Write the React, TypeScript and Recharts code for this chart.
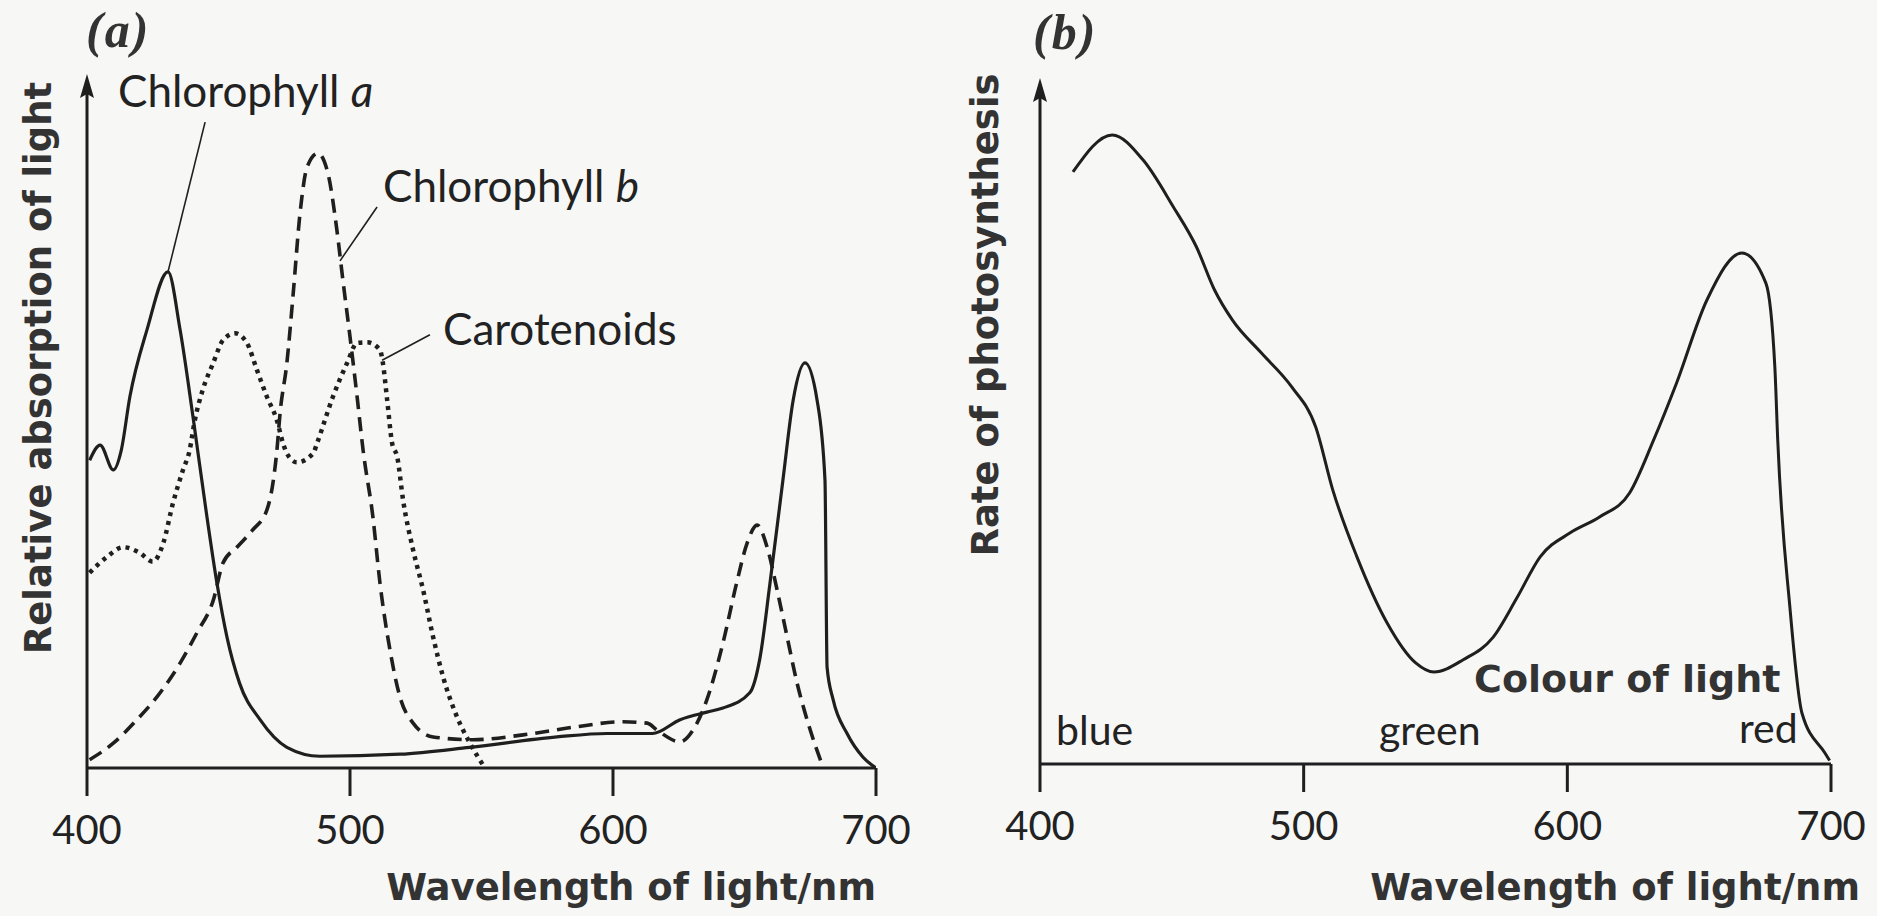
import { LineChart, Line, XAxis, YAxis, ReferenceLine, ReferenceDot } from "recharts"

// wavelength (nm), relative value (0-100)
const chlorophyllA: [number, number][] = [
  [401, 44.6], [405, 46.8], [410, 43.2], [413, 46], [416.3, 53.8], [422.8, 63.5],
  [430.8, 71.9], [435.4, 63.5], [440.3, 50.9], [445.6, 36.4], [449.4, 26.8],
  [453.2, 19], [458, 12.3], [465.8, 7], [476, 3], [488.6, 1.7], [519, 2],
  [545.6, 3], [578.7, 4.5], [597.7, 5], [615, 5], [625.5, 7], [635.7, 8.1],
  [641.8, 8.7], [652, 10.9], [655.9, 16], [659.7, 26.8], [664.6, 41.7],
  [668.5, 53.3], [673, 58.7], [677.6, 53.3], [680.6, 41.7], [681.4, 14.6],
  [683.7, 9.9], [689, 5], [695, 1.6], [700, 0],
]

const chlorophyllB: [number, number][] = [
  [401, 1.2], [410, 3.6], [419, 7], [426.6, 10.3], [435.4, 15.2], [441.8, 19.6],
  [448, 24.3], [451.7, 29.7], [457, 32], [463, 34.5], [468.4, 37.4], [470.7, 41.3],
  [472.2, 46], [473.4, 51.4], [476, 58.7], [478.3, 68.3], [481, 80.4], [483.7, 87.1],
  [487.8, 89.1], [491.6, 86.2], [495, 78], [497.3, 70.7], [500, 62.5], [502.7, 53.8],
  [505, 46], [508.7, 36.4], [511.4, 26.8], [515.2, 17.1], [519, 10.3], [524, 6.5],
  [531.6, 4.5], [546.8, 4.1], [565.8, 4.8], [584.8, 5.9], [603.8, 6.7], [613, 6.5],
  [616.7, 5.5], [625.5, 3.8], [630.4, 5.5], [635.7, 9.9], [641.8, 18.1], [647, 26.8],
  [651, 32.6], [654.8, 35.2], [658.6, 32], [662.4, 25.8], [666.2, 19], [670, 12.3],
  [675, 5.5], [680, 0],
]

const carotenoids: [number, number][] = [
  [401, 28.3], [407.6, 30.6], [413.7, 32], [420, 31.2], [425, 29.9], [429, 32.6],
  [432.7, 38.4], [436.5, 43.2], [439, 46], [441, 50.4], [444, 54.8], [448, 58.7],
  [451.7, 62], [456.3, 63], [460.8, 61.6], [464.6, 57.7], [468.4, 53.8], [472.2, 50.4],
  [474.5, 47.1], [476, 45.6], [479.8, 44.3], [486, 45.6], [487.5, 47.1], [493.5, 53.8],
  [498.9, 58.7], [502.7, 61.6], [506.5, 61.7], [511.4, 60.6], [512.5, 58.7], [514, 53.8],
  [516, 47.1], [518, 45], [520.2, 38.8], [524, 31.6], [527.8, 25.8], [531.6, 19],
  [535.4, 13.2], [540.7, 7.4], [545.6, 3.6], [551.3, 0],
]

const photosynthesisRate: [number, number][] = [
  [412.5, 86.3], [427.4, 91.7], [439.2, 88], [450.6, 81.2], [459.3, 75.4], [466.2, 69.1],
  [473, 64.7], [484, 59.9], [495.4, 55], [504.6, 49.1], [511, 40], [520.2, 30.2],
  [531.6, 20.6], [542.6, 14.7], [549.4, 13.4], [560.5, 15.2], [571.9, 18.5], [581, 24.3],
  [589.7, 30.2], [601.1, 33.7], [612.2, 36], [623.6, 39.5], [632.7, 47.2], [641.4, 55.5],
  [652.9, 67.6], [666.2, 74.5], [675.3, 70.1], [678.7, 57.9], [679.8, 47.2], [684.4, 22.9],
  [689, 7.4], [697.7, 1.6], [699.5, 0.5],
]

const wavelengthTicks = [400, 500, 600, 700]

// leader lines from labels to curves: [x1, y1, x2, y2] in data units
const leaders: [number, number, number, number][] = [
  [444.9, 93.6, 430.8, 71.9],
  [510.3, 81.3, 496.2, 73.5],
  [530.4, 62.8, 512.2, 59.1],
]

const toPoints = (arr: [number, number][]) => arr.map(([wl, v]) => ({ wl, v }))

const INK = "#1f1f1f"
const SANS = "Lato, 'Open Sans', sans-serif"
const BOLD = "'DejaVu Sans', sans-serif"

// arrow head at the top of the y axis
const Arrow = (props: any) => {
  const { cx, cy } = props
  return <path d={`M${cx},${cy - 4} L${cx - 7},${cy + 20} L${cx},${cy + 16} L${cx + 7},${cy + 20} Z`} fill={INK} />
}

export default function App() {
  const xAxis = (height: number) => (
    <XAxis
      dataKey="wl"
      type="number"
      domain={[400, 700]}
      ticks={wavelengthTicks}
      interval={0}
      allowDataOverflow
      height={height}
      stroke={INK}
      strokeWidth={3}
      tickSize={28}
      tickMargin={20}
      tick={{ fill: "#222", fontSize: 40, fontFamily: SANS }}
    />
  )
  const yAxis = <YAxis type="number" domain={[0, 100]} allowDataOverflow width={0} hide />

  return (
    <div style={{ position: "absolute", left: 0, top: 0, width: 1877, height: 916, background: "#f7f7f6", overflow: "hidden" }}>
      <div style={{ position: "absolute", left: 0, top: 0 }}>
        <LineChart width={950} height={916} margin={{ top: 78, right: 74, left: 87, bottom: 0 }}>
          {xAxis(148)}
          {yAxis}
          <ReferenceLine segment={[{ x: 400, y: 0 }, { x: 400, y: 99 }]} stroke={INK} strokeWidth={3} ifOverflow="visible" />
          <ReferenceDot x={400} y={100} r={0} shape={Arrow} ifOverflow="visible" />
          <Line data={toPoints(chlorophyllA)} dataKey="v" type="monotone" stroke={INK} strokeWidth={3.2} dot={false} isAnimationActive={false} />
          <Line data={toPoints(chlorophyllB)} dataKey="v" type="monotone" stroke={INK} strokeWidth={3.6} strokeDasharray="14 8" dot={false} isAnimationActive={false} />
          <Line data={toPoints(carotenoids)} dataKey="v" type="monotone" stroke={INK} strokeWidth={4.5} strokeDasharray="4 5" dot={false} isAnimationActive={false} />
          {leaders.map(([x1, y1, x2, y2], i) => (
            <ReferenceLine key={i} segment={[{ x: x1, y: y1 }, { x: x2, y: y2 }]} stroke={INK} strokeWidth={1.6} ifOverflow="visible" />
          ))}
        </LineChart>
      </div>
      <div style={{ position: "absolute", left: 950, top: 0 }}>
        <LineChart width={927} height={916} margin={{ top: 78, right: 46, left: 90, bottom: 0 }}>
          {xAxis(152)}
          {yAxis}
          <ReferenceLine segment={[{ x: 400, y: 0 }, { x: 400, y: 98.5 }]} stroke={INK} strokeWidth={3} ifOverflow="visible" />
          <ReferenceDot x={400} y={99.4} r={0} shape={Arrow} ifOverflow="visible" />
          <Line data={toPoints(photosynthesisRate)} dataKey="v" type="monotone" stroke={INK} strokeWidth={3} dot={false} isAnimationActive={false} />
        </LineChart>
      </div>
      <svg width={1877} height={916} style={{ position: "absolute", left: 0, top: 0, pointerEvents: "none" }}>
        <g fill="#333" fontFamily="'Liberation Serif', serif" fontWeight="bold" fontStyle="italic" fontSize={50} letterSpacing={2}>
          <text x={86} y={47}>(a)</text>
          <text x={1033} y={49}>(b)</text>
        </g>
        <g fill="#222" fontFamily={SANS} fontSize={44}>
          <text x={118} y={107}>Chlorophyll <tspan fontStyle="italic">a</tspan></text>
          <text x={383} y={202}>Chlorophyll <tspan fontStyle="italic">b</tspan></text>
          <text x={443} y={345}>Carotenoids</text>
        </g>
        <g fill="#222" fontFamily={SANS} fontSize={41}>
          <text x={1056} y={745}>blue</text>
          <text x={1379} y={745}>green</text>
          <text x={1739} y={743}>red</text>
        </g>
        <g fill="#333" fontFamily={BOLD} fontWeight="bold" fontSize={37}>
          <text x={1474} y={692} fontSize={38}>Colour of light</text>
          <text x={876} y={900} textAnchor="end">Wavelength of light/nm</text>
          <text x={1860} y={900} textAnchor="end">Wavelength of light/nm</text>
          <text transform="translate(51,368) rotate(-90)" textAnchor="middle">Relative absorption of light</text>
          <text transform="translate(998,315) rotate(-90)" textAnchor="middle">Rate of photosynthesis</text>
        </g>
      </svg>
    </div>
  )
}
